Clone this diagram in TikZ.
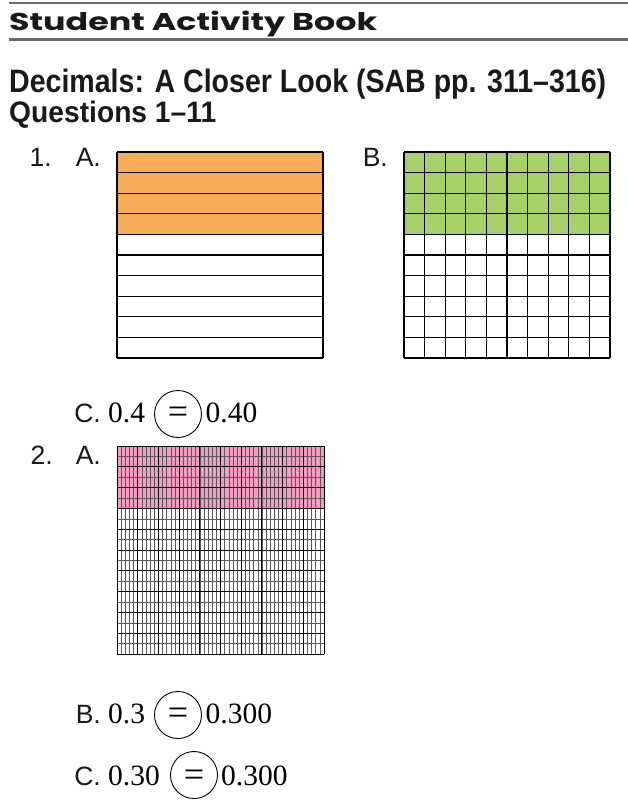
\documentclass[tikz,border=0pt]{standalone}
\usepackage{fontspec}
\setmainfont{Liberation Serif}
\setsansfont{Liberation Sans}
\newfontfamily\hdrfont{Poppins}
\newfontfamily\lblfont{Liberation Sans}
\definecolor{rulegray}{HTML}{6B6B6B}
\definecolor{fillA}{HTML}{F9AC58}
\definecolor{fillB}{HTML}{A6D16A}
\definecolor{fillC}{HTML}{F49BC3}
\begin{document}
\begin{tikzpicture}[x=1pt,y=-1pt,
  lbl/.style={font=\lblfont\fontsize{26.5}{30}\selectfont, inner sep=0pt, anchor=base east, text=black!90},
  num/.style={font=\rmfamily\fontsize{29.5}{34}\selectfont, inner sep=0pt, anchor=base west},
  eqc/.style={circle, draw, line width=0.9pt, minimum size=47pt, inner sep=0pt},
  eqs/.style={font=\rmfamily\fontsize{36}{40}\selectfont, inner sep=0pt, anchor=base},
  hrule/.style={rulegray, line width=2.4pt},
  gline/.style={black, line width=1.2pt},
  thick grid/.style={black, line width=1pt},
  thin grid/.style={black!65, line width=0.5pt}]
\useasboundingbox (0,0) rectangle (628,807);
% header
\draw[hrule] (9,3) -- (628,3);
\draw[hrule] (9,39.5) -- (628,39.5);
\node[anchor=base west, inner sep=0pt, text=black!90] (hdr) at (9,30) {\resizebox{368pt}{19.5pt}{\hdrfont\bfseries Student Activity Book}};
\node[anchor=base west, inner sep=0pt, text=black!90] (title) at (9,92) {\resizebox{597pt}{23.5pt}{\sffamily\bfseries Decimals: A Closer Look (SAB pp. 311–316)}};
\node[anchor=base west, inner sep=0pt, text=black!90] (quest) at (9,122) {\resizebox{207pt}{21.5pt}{\sffamily\bfseries Questions 1–11}};
% question 1 labels
\node[lbl] (q1) at (52,166) {1.};
\node[lbl] (q1a) at (101,166) {A.};
\node[lbl] (q1b) at (388,166) {B.};
% grid 1A
\fill[fillA] (117,152) rectangle (323,234.4);
\foreach \i in {0,...,10} {
  \draw[gline] (117,152+\i*20.6) -- (323,152+\i*20.6);
}
\draw[gline] (117,152) -- (117,358) (323,152) -- (323,358);
% grid 1B
\fill[fillB] (404,152) rectangle (610,234.4);
\foreach \i in {0,...,10} {
  \draw[gline] (404,152+\i*20.6) -- (610,152+\i*20.6);
  \draw[gline] (404+\i*20.6,152) -- (404+\i*20.6,358);
}
% 1C
\node[lbl] (q1c) at (101,422) {C.};
\node[num] (n1a) at (108,422) {0.4};
\node[eqc] (e1) at (178,414) {};
\node[eqs] (s1) at (178,423) {=};
\node[num] (n1b) at (205.5,422) {0.40};
% question 2 labels
\node[lbl] (q2) at (53,464) {2.};
\node[lbl] (q2a) at (101,464) {A.};
% grid 2A
\fill[fillC] (117,446) rectangle (324,508.4);
\foreach \i in {1,...,49} {
  \draw[thin grid] (117+\i*4.14,446) -- (117+\i*4.14,654);
}
\foreach \i in {0,...,9} {
  \draw[thin grid] (117,456.4+\i*20.8) -- (324,456.4+\i*20.8);
}
\foreach \i in {0,...,10} {
  \draw[thick grid] (117+\i*20.7,446) -- (117+\i*20.7,654);
  \draw[thick grid] (117,446+\i*20.8) -- (324,446+\i*20.8);
}
% 2B
\node[lbl] (q2b) at (101,723) {B.};
\node[num] (n2a) at (108,723) {0.3};
\node[eqc] (e2) at (178,715) {};
\node[eqs] (s2) at (178,724) {=};
\node[num] (n2b) at (205.5,723) {0.300};
% 2C
\node[lbl] (q2c) at (101,785) {C.};
\node[num] (n3a) at (108,785) {0.30};
\node[eqc] (e3) at (194,775) {};
\node[eqs] (s3) at (194,786) {=};
\node[num] (n3b) at (221,785) {0.300};
\end{tikzpicture}
\end{document}
